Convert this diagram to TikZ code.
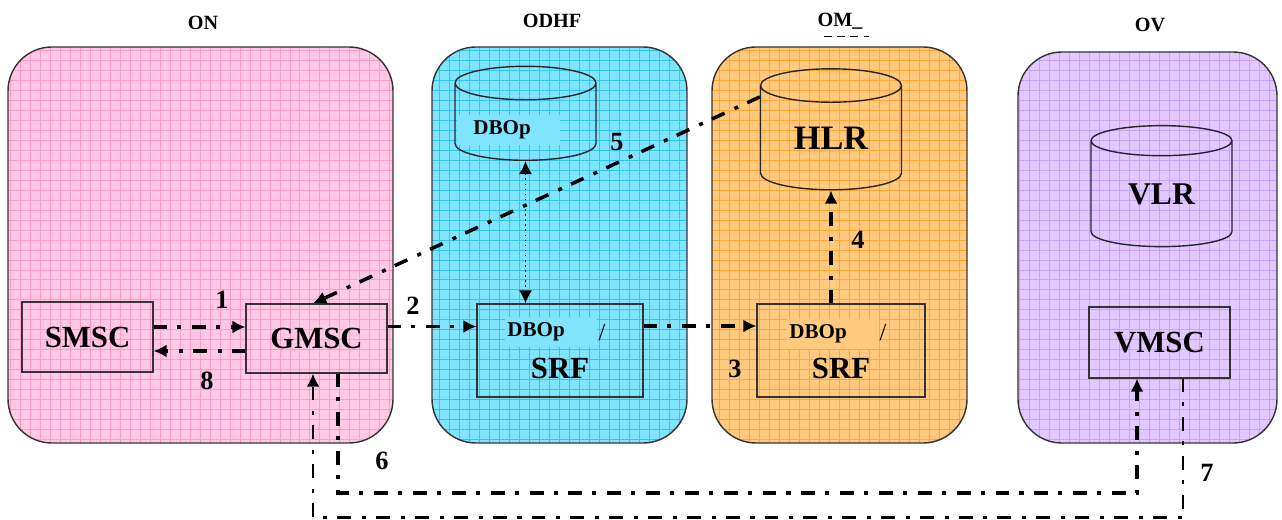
\documentclass[tikz,border=0pt]{standalone}
\usepackage{fontspec}
\setmainfont{Liberation Serif}
\usepackage{tikz}
\usetikzlibrary{arrows.meta,positioning,calc,shapes.geometric}
\definecolor{pinkbg}{HTML}{FFC8E4}
\definecolor{pinkln}{HTML}{FF9ACD}
\definecolor{cyanbg}{HTML}{80E4FF}
\definecolor{cyanln}{HTML}{2BC6F2}
\definecolor{orangebg}{HTML}{FFC97E}
\definecolor{orangeln}{HTML}{FFA634}
\definecolor{purplebg}{HTML}{E2C8FF}
\definecolor{purpleln}{HTML}{C9A0FF}
\definecolor{edgegray}{HTML}{333333}

\begin{document}
\begin{tikzpicture}[
        x=0.02cm,y=-0.02cm,
        >={Latex[length=7.5pt,width=7.5pt]},
        panel/.style={draw=edgegray,line width=0.8pt,rounded corners=25pt},
        title/.style={font=\fontsize{11.5}{12}\selectfont\bfseries},
        box/.style={draw=edgegray,line width=0.6pt,inner sep=0pt,
                    font=\fontsize{17.5}{18}\selectfont\bfseries},
        dbstore/.style={shape=cylinder,shape border rotate=90,aspect=0.45,
                    draw=black!85,line width=0.8pt,inner sep=0pt,
                    minimum width=2.82cm},
        dbtag/.style={fill=#1,inner xsep=0.04cm,inner ysep=0pt,text width=1.76cm,
                    minimum height=0.6cm,align=left,anchor=west,
                    font=\fontsize{12}{12}\selectfont\bfseries},
        num/.style={font=\fontsize{15}{15}\selectfont\bfseries},
        flow/.style={line width=2pt,dash pattern=on 7.9pt off 5.7pt on 2.3pt off 6.2pt},
        every node/.style={align=center}
      ]
        \useasboundingbox (0,0) rectangle (1282,520);

        % operator domains
        \foreach \xa/\ya/\xb/\yb/\bg/\ln in {8/47/393/443/pinkbg/pinkln,
            432/47/687/443/cyanbg/cyanln,712/47/967/443/orangebg/orangeln,
            1018/52/1277/443/purplebg/purpleln}{
          \begin{scope}
            \clip[rounded corners=25pt] (\xa,\ya) rectangle (\xb,\yb);
            \fill[\bg] (\xa,\ya) rectangle (\xb,\yb);
            \draw[\ln,line width=0.5pt,step=0.2cm] (\xa,\ya) grid (\xb,\yb);
          \end{scope}
          \draw[panel] (\xa,\ya) rectangle (\xb,\yb);
        }

        \node[title] (on) at (203,23) {ON};
        \node[title] (odhf) at (552,21) {ODHF};
        \node[title] (om) at (840,21) {OM\_};
        \draw[line width=0.7pt,dash pattern=on 4.5pt off 3pt]
            ([xshift=-0.32cm,yshift=-0.5pt]om.south) -- ([yshift=-0.5pt]om.south east);
        \node[title] (ov) at (1150,25) {OV};

        % network elements
        \node[box,minimum width=2.62cm,minimum height=1.4cm] (smsc) at (87.5,337) {SMSC};
        \node[box,minimum width=2.82cm,minimum height=1.38cm] (gmsc) at (316.5,338.5) {GMSC};
        \node[box,minimum width=3.32cm,minimum height=1.86cm] (srfa) at (560,350.5) {};
        \node[box,minimum width=3.36cm,minimum height=1.86cm] (srfb) at (841,350.5) {};
        \node[box,minimum width=2.82cm,minimum height=1.42cm] (vmsc) at (1159.5,342.5) {VMSC};

        \node[dbtag=cyanbg] (dbopa) at (505,332) {DBOp};
        \node[font=\fontsize{14}{14}\selectfont] (slasha) at (602,333) {/};
        \node[box,draw=none] (srfatxt) at (560,368) {SRF};
        \node[dbtag=orangebg] (dbopb) at (787,334) {DBOp};
        \node[font=\fontsize{14}{14}\selectfont] (slashb) at (883,333) {/};
        \node[box,draw=none] (srfbtxt) at (841,368) {SRF};

        \node[dbstore,minimum height=1.88cm,font=\fontsize{19.5}{20}\selectfont\bfseries]
            (dbcyl) at (525.5,122) {\phantom{HLR}};
        \node[dbtag=cyanbg,text width=1.98cm] (dbcyltxt) at (457,130) {\hspace*{0.28cm}DBOp};
        \node[dbstore,minimum height=2.42cm,font=\fontsize{19.5}{20}\selectfont\bfseries]
            (hlr) at (831,138) {HLR};
        \node[dbstore,minimum height=2.42cm,font=\fontsize{18}{18}\selectfont\bfseries]
            (vlr) at (1161.5,194) {VLR};

        % signalling flows
        \draw[flow,->] ([yshift=0.2cm]smsc.east) -- ([yshift=0.2cm]smsc.east -| gmsc.west);
        \draw[flow,->] ([yshift=-0.25cm]gmsc.west) -- ([yshift=-0.25cm]gmsc.west -| smsc.east);
        \draw[flow,->] ([yshift=0.24cm]gmsc.east) -- ([yshift=0.24cm]gmsc.east -| srfa.west);
        \draw[flow,->] ([yshift=0.49cm]srfa.east) -- ([yshift=0.49cm]srfa.east -| srfb.west);
        \draw[flow,->] (hlr.south |- srfb.north) -- (hlr.south);
        \draw[flow,->] (hlr.150) -- ([xshift=-0.07cm]gmsc.north);
        \draw[dotted,line width=0.9pt,<->] (dbcyl.south) -- (dbcyl.south |- srfa.north);
        \draw[flow,line width=2.3pt,->] ([xshift=0.43cm]gmsc.south) -- ++(0,119)
            -| ([xshift=-0.45cm]vmsc.south);
        \draw[flow,line width=1.6pt,->] ([xshift=0.47cm]vmsc.south) -- ++(0,139)
            -| ([xshift=-0.07cm]gmsc.south);

        \node[num] (n1) at (222,300) {1};
        \node[num] (n2) at (413,306) {2};
        \node[num] (n3) at (735,369) {3};
        \node[num] (n4) at (858,240) {4};
        \node[num] (n5) at (617,142) {5};
        \node[num] (n6) at (382,461) {6};
        \node[num] (n7) at (1207,473) {7};
        \node[num] (n8) at (207,381) {8};
      \end{tikzpicture}
\end{document}
